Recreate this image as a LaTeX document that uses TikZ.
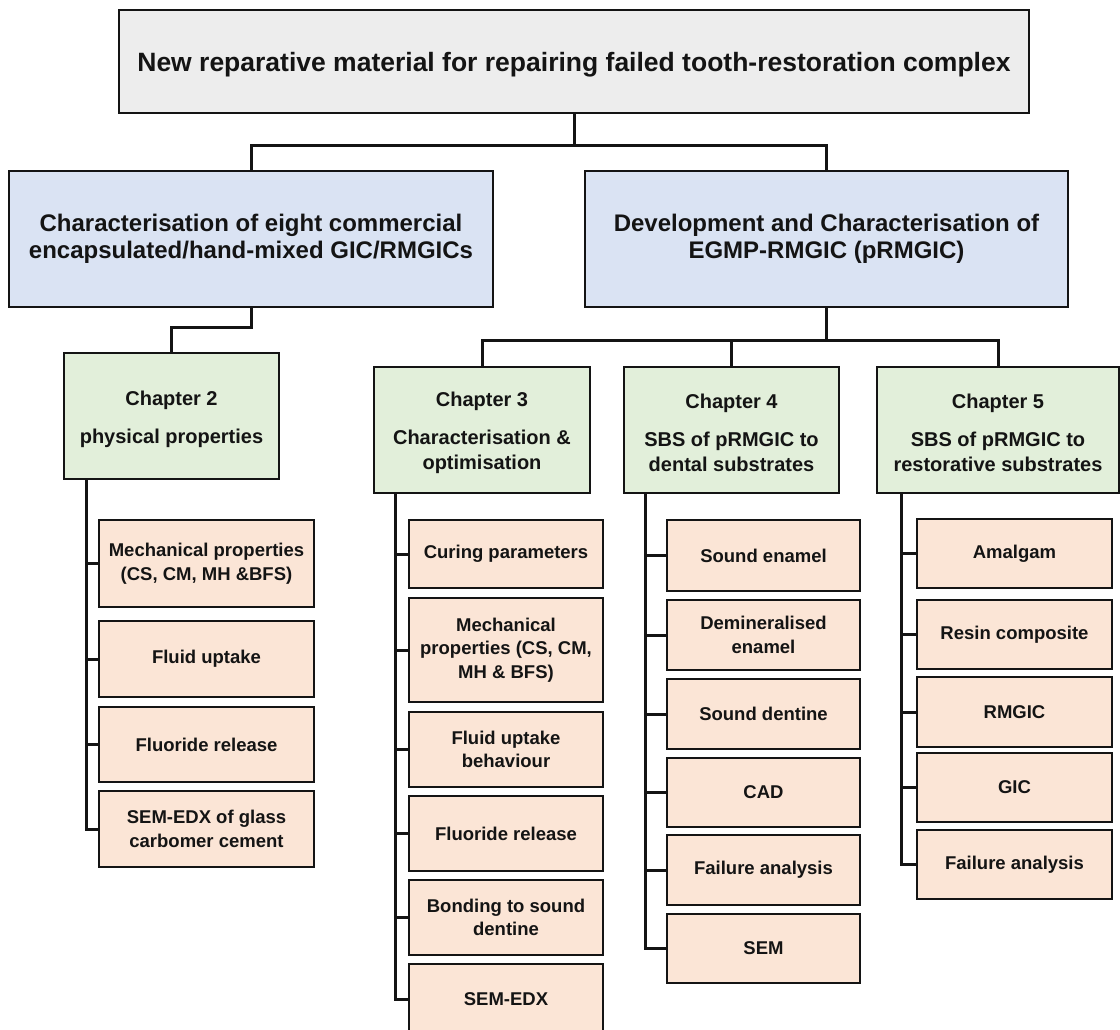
\documentclass[tikz,border=0pt]{standalone}
\usepackage{fontspec}
\setmainfont{Liberation Sans}
\definecolor{topgray}{HTML}{EDEDED}
\definecolor{groupblue}{HTML}{DAE3F3}
\definecolor{chapgreen}{HTML}{E2EFDA}
\definecolor{itempeach}{HTML}{FBE5D6}
\definecolor{inkline}{HTML}{141414}
\tikzset{
  box/.style={draw=inkline, line width=1.6pt, align=center, inner sep=0pt, text=inkline},
  topbox/.style={box, fill=topgray, font=\fontsize{26.5}{31}\selectfont\bfseries},
  groupbox/.style={box, fill=groupblue, font=\fontsize{24}{27}\selectfont\bfseries},
  chapbox/.style={box, fill=chapgreen, font=\fontsize{20}{25}\selectfont\bfseries},
  itembox/.style={box, fill=itempeach, font=\fontsize{18.5}{23.5}\selectfont\bfseries},
  conn/.style={draw=inkline, line width=3pt},
}
% strut that lowers a heading line slightly inside its box
\newcommand{\headstrut}[1]{\rule{0pt}{#1}}
\begin{document}
\begin{tikzpicture}[x=1pt,y=-1pt]
\useasboundingbox (0,0) rectangle (1120,1030);
\clip (0,0) rectangle (1120,1030);

% title and the two work streams
\node[topbox, minimum width=910, minimum height=103] (top) at (574,61.5)
  {\headstrut{26.5pt}New reparative material for repairing failed tooth-restoration complex};
\node[groupbox, minimum width=484, minimum height=136] (gl) at (251,239)
  {Characterisation of eight commercial\\encapsulated/hand-mixed GIC/RMGICs};
\node[groupbox, minimum width=483, minimum height=136] (gr) at (826.5,239)
  {Development and Characterisation of\\EGMP-RMGIC (pRMGIC)};

% chapters
\node[chapbox, minimum width=215, minimum height=126] (c2) at (171.5,416)
  {\headstrut{21pt}Chapter 2\\[13pt]physical properties};
\node[chapbox, minimum width=216, minimum height=126] (c3) at (482,430)
  {\headstrut{21pt}Chapter 3\\[13pt]Characterisation \&\\optimisation};
\node[chapbox, minimum width=215, minimum height=126] (c4) at (731.5,430)
  {\headstrut{21pt}Chapter 4\\[13pt]SBS of pRMGIC to\\dental substrates};
\node[chapbox, minimum width=242, minimum height=126] (c5) at (998,430)
  {\headstrut{21pt}Chapter 5\\[13pt]SBS of pRMGIC to\\restorative substrates};

% chapter 2 studies
\node[itembox, minimum width=215, minimum height=87] (c2a) at (206.5,563.5)
  {Mechanical properties\\(CS, CM, MH \&BFS)};
\node[itembox, minimum width=215, minimum height=76] (c2b) at (206.5,659)
  {Fluid uptake};
\node[itembox, minimum width=215, minimum height=75] (c2c) at (206.5,744.5)
  {Fluoride release};
\node[itembox, minimum width=215, minimum height=76] (c2d) at (206.5,829)
  {SEM-EDX of glass\\carbomer cement};

% chapter 3 studies
\node[itembox, minimum width=194, minimum height=68] (c3a) at (506,554)
  {Curing parameters};
\node[itembox, minimum width=194, minimum height=104] (c3b) at (506,650)
  {Mechanical\\properties (CS, CM,\\MH \& BFS)};
\node[itembox, minimum width=194, minimum height=75] (c3c) at (506,749.5)
  {Fluid uptake\\behaviour};
\node[itembox, minimum width=194, minimum height=75] (c3d) at (506,833.5)
  {Fluoride release};
\node[itembox, minimum width=194, minimum height=75] (c3e) at (506,917.5)
  {Bonding to sound\\dentine};
\node[itembox, minimum width=194, minimum height=70] (c3f) at (506,999)
  {SEM-EDX};

% chapter 4 studies
\node[itembox, minimum width=193, minimum height=71] (c4a) at (763.5,555.5)
  {Sound enamel};
\node[itembox, minimum width=193, minimum height=70] (c4b) at (763.5,635)
  {Demineralised\\enamel};
\node[itembox, minimum width=193, minimum height=70] (c4c) at (763.5,714)
  {Sound dentine};
\node[itembox, minimum width=193, minimum height=69] (c4d) at (763.5,792.5)
  {CAD};
\node[itembox, minimum width=193, minimum height=70] (c4e) at (763.5,870)
  {Failure analysis};
\node[itembox, minimum width=193, minimum height=69] (c4f) at (763.5,948.5)
  {SEM};

% chapter 5 studies
\node[itembox, minimum width=195, minimum height=69] (c5a) at (1014.5,553.5)
  {Amalgam};
\node[itembox, minimum width=195, minimum height=69] (c5b) at (1014.5,634.5)
  {Resin composite};
\node[itembox, minimum width=195, minimum height=70] (c5c) at (1014.5,712)
  {RMGIC};
\node[itembox, minimum width=195, minimum height=69] (c5d) at (1014.5,787.5)
  {GIC};
\node[itembox, minimum width=195, minimum height=69] (c5e) at (1014.5,864.5)
  {Failure analysis};

% tree connectors
\draw[conn] (top.south) -- ++(0,32) -| (gl.north);
\draw[conn] (top.south) -- ++(0,32) -| (gr.north);
\draw[conn] (gl.south) -- ++(0,20) -| (c2.north);
\draw[conn] (gr.south) -- ++(0,33) -| (c3.north);
\draw[conn] (gr.south) -- ++(0,33) -| (c4.north);
\draw[conn] (gr.south) -- ++(0,33) -| (c5.north);

\foreach \n in {c2a,c2b,c2c,c2d}
  \draw[conn] ([xshift=23pt]c2.south west) |- (\n.west);
\foreach \n in {c3a,c3b,c3c,c3d,c3e,c3f}
  \draw[conn] ([xshift=22pt]c3.south west) |- (\n.west);
\foreach \n in {c4a,c4b,c4c,c4d,c4e,c4f}
  \draw[conn] ([xshift=22pt]c4.south west) |- (\n.west);
\foreach \n in {c5a,c5b,c5c,c5d,c5e}
  \draw[conn] ([xshift=25pt]c5.south west) |- (\n.west);
\end{tikzpicture}
\end{document}
